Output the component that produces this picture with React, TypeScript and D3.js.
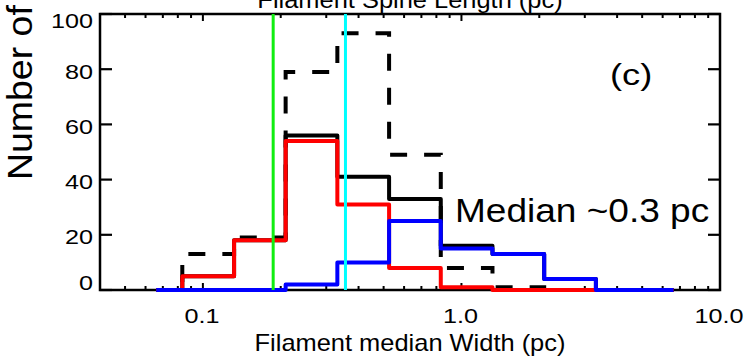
import React from "react";
import * as d3 from "d3";

// Bin centres (pc) of the width histograms
const binCenters = [0.066, 0.105, 0.166, 0.263, 0.417, 0.661, 1.047, 1.66, 2.63, 4.17, 6.61];
// Series counts per bin
const dashedCounts = [0, 13, 19, 79, 93, 49, 8, 1, 0, 0, 0];
const totalCounts = [0, 5, 18, 56, 41, 33, 16, 13, 4, 0, 0];
const redCounts = [0, 5, 18, 54, 31, 8, 1, 0, 0, 0, 0];
const blueCounts = [0, 0, 0, 2, 10, 25, 15, 13, 4, 0, 0];
// Vertical reference lines (pc)
const greenLine = 0.187;
const cyanLine = 0.356;
// Axis ticks
const xMajorTicks = [0.1, 1, 10];
const xMajorLabels = ["0.1", "1.0", "10.0"];
const yTicks = [0, 20, 40, 60, 80, 100];

const W = 747;
const H = 357;
const L = 100, R = 720, T = 14, B = 290;
const FONT = "'Liberation Sans', Arial, Helvetica, sans-serif";

export default function App() {
  const x = d3.scaleLog().domain([0.04, 10]).range([L, R]);
  const y = d3.scaleLinear().domain([0, 100]).range([B, T]);

  const minor: number[] = [];
  [0.01, 0.1, 1].forEach((dec) => {
    for (let m = 2; m <= 9; m++) {
      const v = dec * m;
      if (v >= 0.04 && v <= 10) minor.push(v);
    }
  });

  const line = d3
    .line<[number, number]>()
    .x((d) => x(d[0]))
    .y((d) => y(d[1]))
    .curve(d3.curveStep);

  const path = (vals: number[]) =>
    line(binCenters.map((c, i) => [c, vals[i]] as [number, number])) || "";

  const yLabelDy = (v: number) => (v === 100 ? 14 : v === 0 ? 0 : 9.5);

  return (
    <svg
      width={W}
      height={H}
      style={{ position: "absolute", left: 0, top: 0, background: "#fff" }}
      fontFamily={FONT}
    >
      <rect x={0} y={0} width={W} height={H} fill="#fff" />
      {/* clipped title of panel above */}
      <text
        transform={`translate(${(L + R) / 2},8) scale(1.06,1)`}
        textAnchor="middle"
        fontSize={24}
        fill="#000"
      >
        Filament Spine Length (pc)
      </text>

      {/* frame */}
      <rect x={L} y={T} width={R - L} height={B - T} fill="none" stroke="#000" strokeWidth={2.5} />

      {/* y ticks left and right */}
      {yTicks.map((v) => (
        <g key={"yt" + v}>
          <line x1={L} x2={L + 12} y1={y(v)} y2={y(v)} stroke="#000" strokeWidth={2.2} />
          <line x1={R - 12} x2={R} y1={y(v)} y2={y(v)} stroke="#000" strokeWidth={2.2} />
          <text
            transform={`translate(93,${y(v) + yLabelDy(v)}) scale(1.2,1)`}
            textAnchor="end"
            fontSize={21}
            fill="#000"
          >
            {v}
          </text>
        </g>
      ))}

      {/* x ticks bottom and top */}
      {xMajorTicks.map((v, i) => (
        <g key={"xt" + v}>
          <line x1={x(v)} x2={x(v)} y1={B} y2={B - 7} stroke="#000" strokeWidth={2} />
          <line x1={x(v)} x2={x(v)} y1={T} y2={T + 7} stroke="#000" strokeWidth={2} />
          <text
            transform={`translate(${x(v) - 1},323) scale(1.2,1)`}
            textAnchor="middle"
            fontSize={21}
            fill="#000"
          >
            {xMajorLabels[i]}
          </text>
        </g>
      ))}
      {minor.map((v) => (
        <g key={"xm" + v}>
          <line x1={x(v)} x2={x(v)} y1={B} y2={B - 4} stroke="#000" strokeWidth={2} />
          <line x1={x(v)} x2={x(v)} y1={T} y2={T + 4} stroke="#000" strokeWidth={2} />
        </g>
      ))}

      {/* histograms */}
      <path d={path(dashedCounts)} fill="none" stroke="#000" strokeWidth={4} strokeDasharray="17 17" />
      <path d={path(totalCounts)} fill="none" stroke="#000" strokeWidth={4} strokeLinejoin="round" />
      <path d={path(redCounts)} fill="none" stroke="#ff0000" strokeWidth={4} strokeLinejoin="round" />
      <path d={path(blueCounts)} fill="none" stroke="#0000ff" strokeWidth={4} strokeLinejoin="round" />

      {/* reference lines */}
      <line x1={x(greenLine)} x2={x(greenLine)} y1={T} y2={B} stroke="#11ee11" strokeWidth={3} />
      <line x1={x(cyanLine)} x2={x(cyanLine)} y1={T} y2={B} stroke="#00ffff" strokeWidth={3} />

      {/* annotations */}
      <text transform="translate(610,85) scale(1.25,1)" fontSize={29} fill="#000">
        (c)
      </text>
      <text transform="translate(455,222) scale(1.14,1)" fontSize={32.5} fill="#000">
        Median ~0.3 pc
      </text>

      {/* axis titles */}
      <text
        transform={`translate(${(L + R) / 2},351) scale(1.06,1)`}
        textAnchor="middle"
        fontSize={24}
        fill="#000"
      >
        Filament median Width (pc)
      </text>
      <text transform="translate(32,180) rotate(-90) scale(1.07,1)" fontSize={35} fill="#000">
        Number of
      </text>
    </svg>
  );
}
